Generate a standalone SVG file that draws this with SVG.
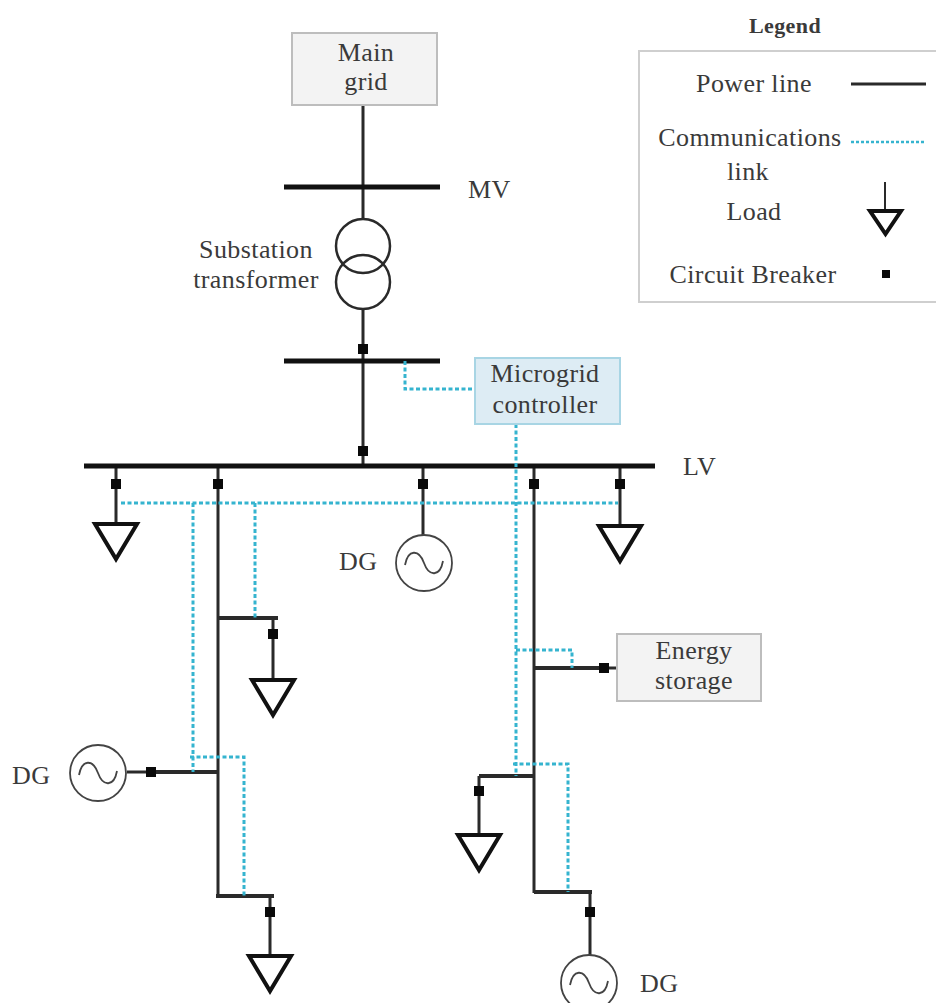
<svg xmlns="http://www.w3.org/2000/svg" width="936" height="1003" viewBox="0 0 936 1003">
<style>
text{font-family:"Liberation Serif","Times New Roman",serif;font-size:26px;fill:#3a3a3a;letter-spacing:.4px}
.m{text-anchor:middle}
.p{fill:none;stroke:#2a2a2a;stroke-width:3}
.b{fill:none;stroke:#111;stroke-width:5}
.c{fill:none;stroke:#35b4cf;stroke-width:3;stroke-dasharray:4 2.500}
.g{fill:#fff;stroke:#444;stroke-width:1.8}
.t{fill:none;stroke:#111;stroke-width:4}
.x{fill:#0a0a0a}
.box{fill:#f3f3f3;stroke:#bdbdbd;stroke-width:2}
</style>
<defs>
<rect id="cb" class="x" x="-5" y="-5" width="10" height="10"/>
<path id="load" class="t" d="M-21 0H21L0 35Z"/>
<g id="gen"><circle class="g" r="28"/><path d="M-19 2C-16-14-5-14 0 0S16 14 19-2" fill="none" stroke="#444" stroke-width="1.8"/></g>
</defs>
<g id="connectors">
<path class="p" d="M363 105V218M363 309V466M116 466V524M218 466V896M423 466V535M534 466V893M620 466V526M273 618V680M270 896V956M127 772H218M479 776V835M590 892V955M534 668H617"/>
<path class="b" d="M284 187H440M284 361H440M84 466H655"/>
<path class="p" style="stroke-width:4" d="M218 618H278M151 772H218M216 896H274M534 668H604M479 776H534M534 892H592"/>
<path class="c" d="M405 361V389H475M121 503H618M193 503V772M255 503V618M190 757H244V896M516 424V776M516 650H572V668M513 764H568V892"/>
</g>
<g id="main-grid"><rect class="box" x="292" y="33" width="145" height="72"/><text class="m" x="366" y="61">Main</text><text class="m" x="366" y="90">grid</text></g>
<g id="mv"><text x="468" y="198">MV</text></g>
<g id="transformer"><circle cx="363" cy="246" r="27" fill="none" stroke="#2a2a2a" stroke-width="2.500"/><circle cx="363" cy="282" r="27" fill="none" stroke="#2a2a2a" stroke-width="2.500"/><text class="m" x="256" y="258">Substation</text><text class="m" x="256" y="288">transformer</text></g>
<g id="microgrid-controller"><rect x="475" y="358" width="145" height="66" fill="#ddecf4" stroke="#a8d5e4" stroke-width="2"/><text class="m" x="545" y="382">Microgrid</text><text class="m" x="545" y="413">controller</text></g>
<g id="lv"><text x="683" y="475">LV</text></g>
<g id="breakers">
<use href="#cb" x="363" y="349"/><use href="#cb" x="363" y="451"/><use href="#cb" x="116" y="484"/><use href="#cb" x="218" y="484"/><use href="#cb" x="423" y="484"/><use href="#cb" x="534" y="484"/><use href="#cb" x="620" y="484"/><use href="#cb" x="273" y="634"/><use href="#cb" x="151" y="772"/><use href="#cb" x="270" y="912"/><use href="#cb" x="604" y="668"/><use href="#cb" x="479" y="791"/><use href="#cb" x="590" y="912"/>
</g>
<g id="load-1"><use href="#load" x="116" y="524"/></g>
<g id="load-2"><use href="#load" x="620" y="526"/></g>
<g id="load-3"><use href="#load" x="273" y="680"/></g>
<g id="load-4"><use href="#load" x="270" y="956"/></g>
<g id="load-5"><use href="#load" x="479" y="835"/></g>
<g id="dg-1"><use href="#gen" x="424" y="563"/><text x="339" y="570">DG</text></g>
<g id="dg-2"><use href="#gen" x="98" y="773"/><text x="12" y="784">DG</text></g>
<g id="dg-3"><use href="#gen" x="589" y="983"/><text x="640" y="992">DG</text></g>
<g id="energy-storage"><rect class="box" x="617" y="634" width="144" height="67"/><text class="m" x="694" y="659">Energy</text><text class="m" x="694" y="689">storage</text></g>
<g id="legend">
<text class="m" x="785" y="33" style="font-weight:bold;font-size:22px">Legend</text>
<rect x="639" y="51" width="310" height="251" fill="#fff" stroke="#cfcfcf" stroke-width="2"/>
<text class="m" x="754" y="92">Power line</text>
<path class="p" d="M851 84H926"/>
<text class="m" x="750" y="146">Communications</text>
<path d="M851 142H926" fill="none" stroke="#35b4cf" stroke-width="2.500" stroke-dasharray="3 2"/>
<text class="m" x="748" y="180">link</text>
<text class="m" x="754" y="220">Load</text>
<path d="M885 182V211" fill="none" stroke="#2a2a2a" stroke-width="2"/>
<path class="t" d="M870 211H901L885.500 234Z"/>
<text class="m" x="753" y="283">Circuit Breaker</text>
<rect class="x" x="882" y="270" width="8" height="8"/>
</g>
</svg>
